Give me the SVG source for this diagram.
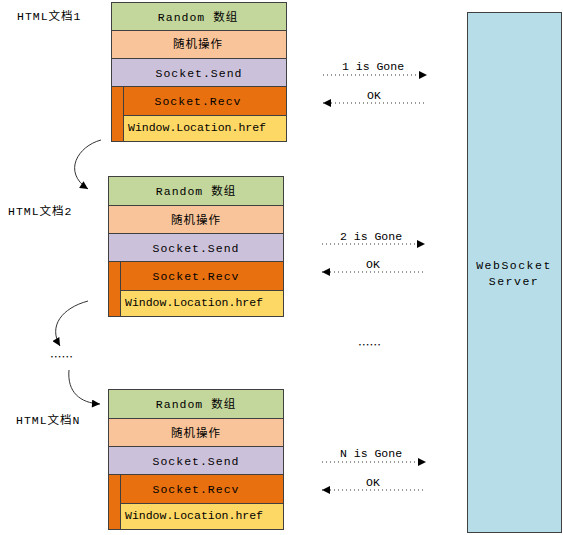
<svg xmlns="http://www.w3.org/2000/svg" width="563" height="535" viewBox="0 0 563 535">
<defs>
<marker id="ah" viewBox="0 0 10 10" refX="10" refY="5" markerWidth="9" markerHeight="8" markerUnits="userSpaceOnUse" orient="auto">
<path d="M0,0 L10,5 L0,10 z" fill="#000"/>
</marker>
<marker id="ahs" viewBox="0 0 10 10" refX="10" refY="5" markerWidth="9" markerHeight="8" markerUnits="userSpaceOnUse" orient="auto-start-reverse">
<path d="M0,0 L10,5 L0,10 z" fill="#000"/>
</marker>
</defs>
<style>
.t{font-family:"Liberation Mono","Noto Sans CJK SC",monospace;font-size:11.5px;fill:#000}
.c{text-anchor:middle}
.s{letter-spacing:1px}
.e{font-family:"Noto Sans CJK SC",sans-serif;font-size:11.5px;fill:#000}
.b{stroke:#404040;stroke-width:1}
.g{fill:#C3D69B}
.p{fill:#F9C49A}
.l{fill:#CCC1DA}
.o{fill:#E8700F}
.y{fill:#FDD865}
.d{stroke:#333;stroke-width:1;stroke-dasharray:1 3;fill:none}
.cv{stroke:#333;stroke-width:1;fill:none}
</style>
<rect width="563" height="535" fill="#fff"/>

<g id="doc1">
<text class="t s" x="17" y="20">HTML文档1</text>
<rect class="b g" x="111.5" y="2.5" width="175" height="28"/>
<rect class="b p" x="111.5" y="30.5" width="175" height="28"/>
<rect class="b l" x="111.5" y="58.5" width="175" height="28"/>
<rect class="b o" x="111.5" y="86.5" width="175" height="29"/>
<rect class="b y" x="123.5" y="115.5" width="163" height="26"/>
<rect class="b o" x="111.5" y="86.5" width="12" height="55"/>
<text class="t c s" x="198" y="21">Random 数组</text>
<text class="t c s" x="198" y="48">随机操作</text>
<text class="t c s" x="199" y="77">Socket.Send</text>
<text class="t c s" x="198" y="105">Socket.Recv</text>
<text class="t" x="128" y="131">Window.Location.href</text>
</g>

<g id="doc2">
<text class="t s" x="8" y="215">HTML文档2</text>
<rect class="b g" x="108.5" y="176.5" width="175" height="29"/>
<rect class="b p" x="108.5" y="205.5" width="175" height="28"/>
<rect class="b l" x="108.5" y="233.5" width="175" height="28"/>
<rect class="b o" x="108.5" y="261.5" width="175" height="29"/>
<rect class="b y" x="120.5" y="290.5" width="163" height="26"/>
<rect class="b o" x="108.5" y="261.5" width="12" height="55"/>
<text class="t c s" x="196" y="195">Random 数组</text>
<text class="t c s" x="196" y="224">随机操作</text>
<text class="t c s" x="196" y="252">Socket.Send</text>
<text class="t c s" x="196" y="280">Socket.Recv</text>
<text class="t" x="125" y="306">Window.Location.href</text>
</g>

<g id="docN">
<text class="t s" x="16" y="424">HTML文档N</text>
<rect class="b g" x="108.5" y="389.5" width="175" height="29"/>
<rect class="b p" x="108.5" y="418.5" width="175" height="28"/>
<rect class="b l" x="108.5" y="446.5" width="175" height="28"/>
<rect class="b o" x="108.5" y="474.5" width="175" height="29"/>
<rect class="b y" x="120.5" y="503.5" width="163" height="26"/>
<rect class="b o" x="108.5" y="474.5" width="12" height="55"/>
<text class="t c s" x="196" y="408">Random 数组</text>
<text class="t c s" x="196" y="437">随机操作</text>
<text class="t c s" x="196" y="465">Socket.Send</text>
<text class="t c s" x="196" y="493">Socket.Recv</text>
<text class="t" x="125" y="519">Window.Location.href</text>
</g>

<g id="server">
<rect x="467.5" y="12.5" width="94" height="520" fill="#B7DDE8" stroke="#404040"/>
<text class="t c" x="514" y="269" style="letter-spacing:1.5px">WebSocket</text>
<text class="t c" x="514" y="285" style="letter-spacing:1.5px">Server</text>
</g>

<g id="ellipsis">
<text class="e" x="50" y="361">……</text>
<text class="e" x="358" y="349">……</text>
</g>

<g id="connectors">
<path class="cv" d="M101,140 C78,146 62,172 88,189" marker-end="url(#ah)"/>
<path class="cv" d="M88,301 C62,308 48,326 60,346" marker-end="url(#ah)"/>
<path class="cv" d="M69,370 C67,392 80,403 100,404" marker-end="url(#ah)"/>

<path class="d" d="M323,75 L427,75" marker-end="url(#ah)"/>
<path class="d" d="M323,103 L426,103" marker-start="url(#ahs)"/>
<path class="d" d="M322,244 L425,244" marker-end="url(#ah)"/>
<path class="d" d="M322,272 L425,272" marker-start="url(#ahs)"/>
<path class="d" d="M322,462 L426,462" marker-end="url(#ah)"/>
<path class="d" d="M322,490 L425,490" marker-start="url(#ahs)"/>
</g>

<g id="labels">
<text class="t c" x="373" y="70">1 is Gone</text>
<text class="t c" x="374" y="99">OK</text>
<text class="t c" x="371" y="240">2 is Gone</text>
<text class="t c" x="373" y="268">OK</text>
<text class="t c" x="371" y="457">N is Gone</text>
<text class="t c" x="373" y="486">OK</text>
</g>
</svg>
